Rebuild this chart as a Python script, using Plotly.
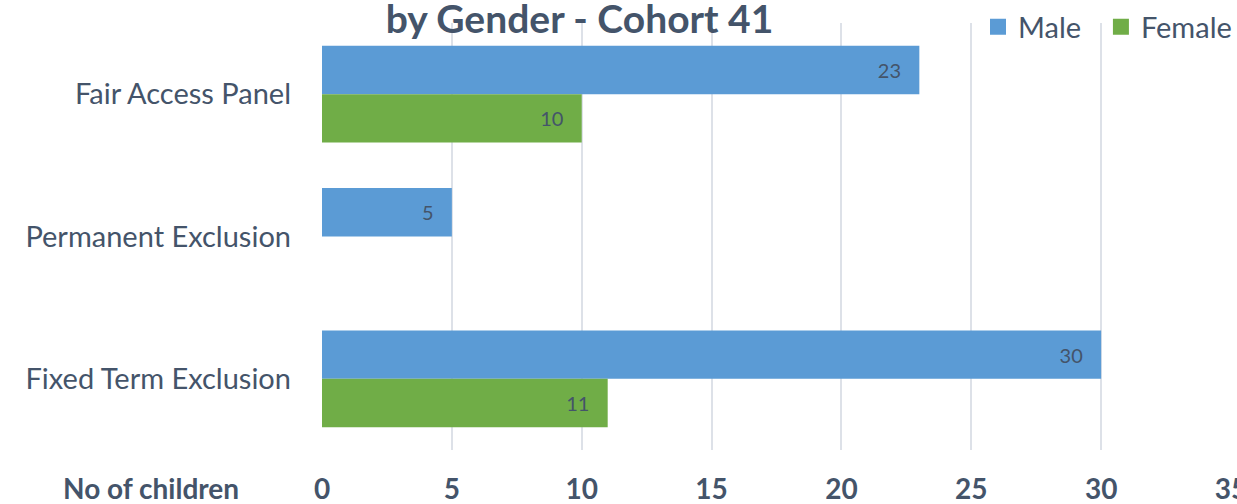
import plotly.graph_objects as go

categories = ["Fair Access Panel", "Permanent Exclusion", "Fixed Term Exclusion"]
male_values = [23, 5, 30]
female_values = [10, None, 11]
x_ticks = [0, 5, 10, 15, 20, 25, 30, 35]

TXT = "#44546A"
FONT = "Lato"
W, H = 1237, 504
L, R, T, B = 322, 6, 23, 54
series = [("Male", male_values, "#5B9BD5"), ("Female", female_values, "#70AD47")]

fig = go.Figure()
for name, vals, col in series:
    fig.add_trace(go.Bar(
        y=categories, x=vals, name=name, orientation="h", legendgroup=name, showlegend=False,
        marker=dict(color=col, line=dict(width=0)),
        texttemplate="%{x}\u00a0\u00a0\u00a0", textposition="inside", insidetextanchor="end",
        textangle=0, constraintext="none",
        textfont=dict(family=FONT, size=20, color=TXT),
    ))
legend_names = {"Male": "Male\u00a0\u00a0", "Female": "Female"}
for name, vals, col in series:
    fig.add_trace(go.Scatter(
        x=[None], y=[None], mode="markers", name=legend_names[name], legendgroup=name, showlegend=True,
        marker=dict(symbol="square", size=18, color=col, line=dict(width=0)),
    ))

fig.update_layout(
    width=W, height=H,
    margin=dict(l=L, r=R, t=T, b=B, pad=0, autoexpand=False),
    paper_bgcolor="white", plot_bgcolor="white",
    barmode="group", bargap=0.32, bargroupgap=0,
    font=dict(family=FONT, color=TXT),
    title=dict(text="<b>by Gender - Cohort 41</b>", x=579.5 / W, xanchor="center",
               y=1 - 19.5 / H, yanchor="middle", yref="container",
               font=dict(family=FONT, size=39, color=TXT)),
    legend=dict(orientation="h", xref="container", x=978 / W, xanchor="left",
                yref="container", y=1 - 27 / H, yanchor="middle",
                font=dict(family=FONT, size=29, color=TXT), bgcolor="rgba(0,0,0,0)",
                itemwidth=30, traceorder="normal"),
    showlegend=True,
)
fig.update_xaxes(range=[0, 35], tickvals=x_ticks, showgrid=True, gridcolor="#DDE1E8", gridwidth=1.5,
                 zeroline=False, showline=False, ticks="", ticklabelstandoff=20, automargin=False,
                 ticklabeloverflow="allow",
                 tickfont=dict(family=FONT, size=28, color=TXT, weight="bold"))
fig.update_yaxes(autorange="reversed", showgrid=False, showline=False, ticks="", automargin=False,
                 ticklabelstandoff=30, tickfont=dict(family=FONT, size=29, color=TXT))

fig.add_annotation(text="<b>No of children</b>", xref="paper", yref="paper",
                   x=-(L - 241) / (W - L - R), xanchor="right", y=-(488 - (H - B)) / (H - T - B), yanchor="middle",
                   showarrow=False, font=dict(family=FONT, size=28, color=TXT))

fig.write_html("out.html", config={"displayModeBar": False},
               post_script="document.body.style.margin='0';document.body.style.padding='0';")
